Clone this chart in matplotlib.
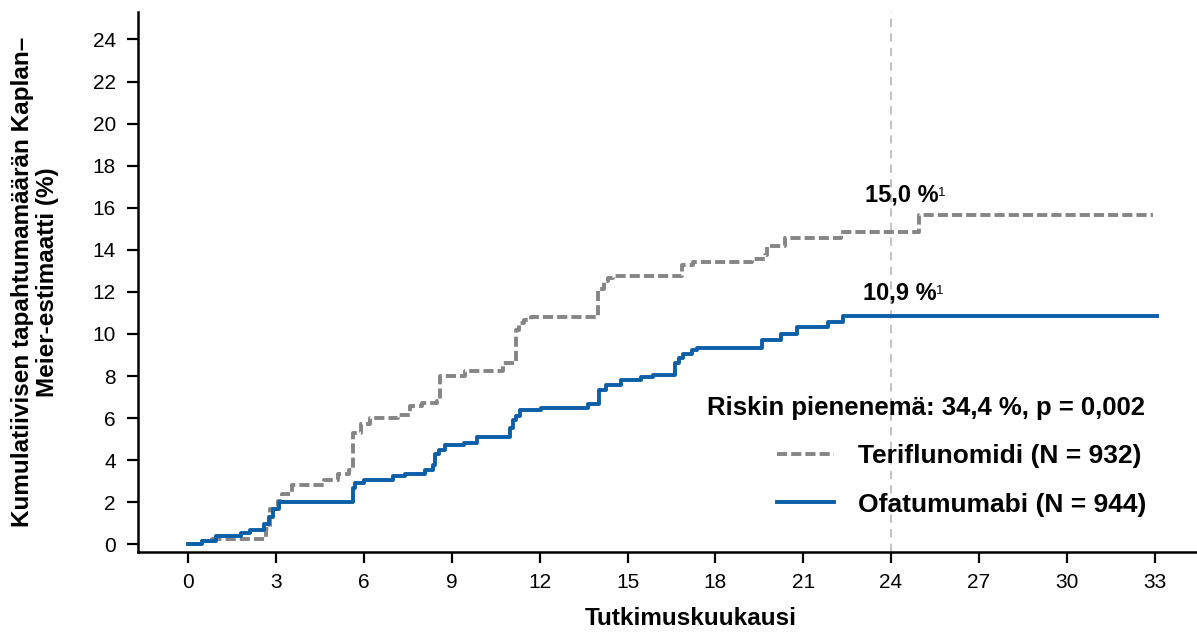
import matplotlib.pyplot as plt
from matplotlib.lines import Line2D

plt.rcParams['font.family'] = ['Liberation Sans', 'DejaVu Sans']

# Kaplan-Meier -käyrät (kuukausi, kumulatiivinen %)
teri_t = [0, 0.47, 0.81, 2.65, 2.8, 3.05, 3.2, 3.55, 4.35, 4.64, 5.1, 5.5, 5.62, 5.9,
          6.19, 7.17, 7.57, 7.97, 8.48, 8.6, 9.46, 10.74, 11.2, 11.3, 11.46, 11.69,
          13.98, 14.2, 14.33, 14.5, 16.85, 17.25, 19.25, 19.7, 19.76, 20.39, 22.28,
          24.97, 32.95]
teri_v = [0, 0.16, 0.25, 0.71, 1.66, 2.05, 2.37, 2.8, 2.84, 3.08, 3.36, 3.55, 5.29, 5.73,
          6.0, 6.16, 6.56, 6.72, 6.8, 7.98, 8.25, 8.6, 10.19, 10.5, 10.66, 10.79,
          12.16, 12.5, 12.64, 12.75, 13.27, 13.43, 13.55, 13.74, 14.2, 14.57, 14.84,
          15.64, 15.64]

ofa_t = [0, 0.47, 0.93, 1.8, 2.1, 2.6, 2.75, 2.9, 3.1, 5.62, 5.7, 6.0, 7.0, 7.4, 8.08,
         8.37, 8.42, 8.55, 8.77, 9.4, 9.86, 11.0, 11.1, 11.2, 11.34, 12.03, 13.64,
         14.04, 14.26, 14.78, 15.46, 15.87, 16.62, 16.75, 16.9, 17.2, 17.37, 19.6,
         20.23, 20.8, 21.83, 22.35, 33.1]
ofa_v = [0, 0.16, 0.38, 0.55, 0.7, 0.95, 1.3, 1.66, 2.02, 2.7, 2.93, 3.08, 3.24, 3.36, 3.55,
         3.79, 4.3, 4.5, 4.7, 4.82, 5.1, 5.55, 5.9, 6.08, 6.4, 6.5, 6.68,
         7.35, 7.58, 7.79, 7.95, 8.06, 8.61, 8.85, 9.05, 9.24, 9.32, 9.72,
         10.0, 10.32, 10.55, 10.87, 10.87]

x_ticks = list(range(0, 34, 3))
y_ticks = list(range(0, 25, 2))

gray = '#858585'
blue = '#0B5FA8'
lw = 2.8
dash = (2.6, 1.05)

fig = plt.figure(figsize=(11.97, 6.33), dpi=100)
ax = fig.add_axes([138 / 1197, 1 - 552.3 / 633, 1 - 138 / 1197, (552.3 - 12.3) / 633])

ax.axvline(24, color='#C4C4C4', lw=1.5, dashes=(4, 3), zorder=1)
ax.step(teri_t, teri_v, where='post', color=gray, lw=lw, dashes=dash, zorder=3)
ax.step(ofa_t, ofa_v, where='post', color=blue, lw=lw, zorder=4)

ax.set_xlim(-1.72, 34.45)
ax.set_ylim(-0.38, 25.29)
ax.set_xticks(x_ticks)
ax.set_yticks(y_ticks)
ax.tick_params(labelsize=15, length=8, width=1.6, color='black')
ax.tick_params(axis='y', pad=8)
ax.tick_params(axis='x', pad=7)
for s in ['top', 'right']:
    ax.spines[s].set_visible(False)
for s in ['left', 'bottom']:
    ax.spines[s].set_linewidth(1.8)

ax.set_xlabel('Tutkimuskuukausi', fontsize=17.5, fontweight='bold')
ax.xaxis.set_label_coords(0.522, -0.102)
ax.set_ylabel('Kumulatiivisen tapahtumamäärän Kaplan–\nMeier-estimaatti (%)',
              fontsize=17.5, fontweight='bold', linespacing=1.1)
ax.yaxis.set_label_coords(-0.075, 0.5)

# loppuarvot 24 kk kohdalla
t1 = ax.text(23.1, 16.6, '15,0 %', fontsize=17, fontweight='bold', va='center', ha='left')
ax.annotate('1', xy=(1, 0.85), xycoords=t1, fontsize=9.5, va='top', ha='left')
t2 = ax.text(23.03, 11.96, '10,9 %', fontsize=17, fontweight='bold', va='center', ha='left')
ax.annotate('1', xy=(1, 0.85), xycoords=t2, fontsize=9.5, va='top', ha='left')

ax.text(1145 / 1197, (633 - 408) / 633, 'Riskin pienenemä: 34,4 %, p = 0,002',
        transform=fig.transFigure, fontsize=18.5, fontweight='bold', ha='right', va='center')

handles = [Line2D([], [], color=gray, lw=lw, dashes=dash),
           Line2D([], [], color=blue, lw=lw)]
labels = ['Teriflunomidi (N = 932)', 'Ofatumumabi (N = 944)']
ax.legend(handles, labels, loc='upper left', bbox_to_anchor=(777 / 1197, (633 - 444) / 633),
          bbox_transform=fig.transFigure, frameon=False, borderpad=0, borderaxespad=0,
          handlelength=2.17, handletextpad=0.91, labelspacing=0.93,
          prop={'size': 19, 'weight': 'bold'})

fig.savefig('out.png', dpi=100)
